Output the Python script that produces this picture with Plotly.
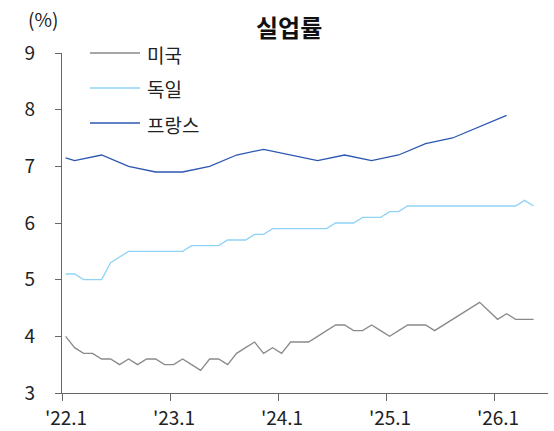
import plotly.graph_objects as go

# Monthly index: 0 = 2022-01 ... 52 = 2026-05
months = list(range(53))

us = [4.0, 3.8, 3.7, 3.7, 3.6, 3.6, 3.5, 3.6, 3.5, 3.6, 3.6, 3.5,
      3.5, 3.6, 3.5, 3.4, 3.6, 3.6, 3.5, 3.7, 3.8, 3.9, 3.7, 3.8,
      3.7, 3.9, 3.9, 3.9, 4.0, 4.1, 4.2, 4.2, 4.1, 4.1, 4.2, 4.1,
      4.0, 4.1, 4.2, 4.2, 4.2, 4.1, 4.2, 4.3, 4.4, None, 4.6, 4.45,
      4.3, 4.4, 4.3, 4.3, 4.3]

germany = [5.1, 5.1, 5.0, 5.0, 5.0, 5.3, 5.4, 5.5, 5.5, 5.5, 5.5, 5.5,
           5.5, 5.5, 5.6, 5.6, 5.6, 5.6, 5.7, 5.7, 5.7, 5.8, 5.8, 5.9,
           5.9, 5.9, 5.9, 5.9, 5.9, 5.9, 6.0, 6.0, 6.0, 6.1, 6.1, 6.1,
           6.2, 6.2, 6.3, 6.3, 6.3, 6.3, 6.3, 6.3, 6.3, 6.3, 6.3, 6.3,
           6.3, 6.3, 6.3, 6.4, 6.3]

france = [7.15, 7.1, None, None, 7.2, None, None, 7.0, None, None, 6.9, None,
          None, 6.9, None, None, 7.0, None, None, 7.2, None, None, 7.3, None,
          None, 7.2, None, None, 7.1, None, None, 7.2, None, None, 7.1, None,
          None, 7.2, None, None, 7.4, None, None, 7.5, None, None, 7.7, None,
          None, 7.9, None, None, None]

series_names = ["미국", "독일", "프랑스"]
series_colors = ["#8a8a8a", "#8fd3f7", "#2c57b0"]

tick_vals = [-0.4, 11.6, 23.6, 35.6, 47.6]
tick_text = ["'22.1", "'23.1", "'24.1", "'25.1", "'26.1"]
y_ticks = [3, 4, 5, 6, 7, 8, 9]

FONT = "Noto Sans CJK KR"
PL, PR, PT, PB = 62, 6, 53, 38
W, H = 554, 431
PW, PH = W - PL - PR, H - PT - PB


def px(xp):
    return (xp - PL) / PW


def py(yp):
    return (H - PB - yp) / PH


fig = go.Figure()
for name, vals, col in zip(series_names, [us, germany, france], series_colors):
    fig.add_trace(go.Scatter(x=months, y=vals, mode="lines", name=name,
                             line=dict(color=col, width=1.3),
                             connectgaps=True, showlegend=False))

# Manual legend (long line samples as in the reference)
legend_rows = [53, 88, 123]
shapes = []
annotations = []
for name, col, yr in zip(series_names, series_colors, legend_rows):
    shapes.append(dict(type="line", xref="paper", yref="paper",
                       x0=px(90), x1=px(140), y0=py(yr), y1=py(yr),
                       line=dict(color=col, width=1.3)))
    annotations.append(dict(text=name, xref="paper", yref="paper",
                            x=px(145), y=py(yr + 1), xanchor="left",
                            yanchor="middle", showarrow=False,
                            font=dict(size=19, family=FONT, color="#222222")))

annotations += [
    dict(text="<b>실업률</b>", xref="paper", yref="paper",
         x=px(289), y=py(26),
         xanchor="center", yanchor="middle", showarrow=False,
         font=dict(size=24, family=FONT, color="#111111")),
    dict(text="(%)", xref="paper", yref="paper",
         x=px(43), y=py(19),
         xanchor="center", yanchor="middle", showarrow=False,
         font=dict(size=19, family=FONT, color="#222222")),
]

fig.update_layout(
    width=W, height=H,
    margin=dict(l=PL, r=PR, t=PT, b=PB, autoexpand=False),
    paper_bgcolor="white", plot_bgcolor="white",
    font=dict(family=FONT, size=19, color="#222222"),
    showlegend=False,
    xaxis=dict(range=[-0.4, 53.6], tickvals=tick_vals, ticktext=tick_text,
               showgrid=False, zeroline=False, showline=True, automargin=False,
               linecolor="#666666", linewidth=1.2,
               ticks="outside", ticklen=7, tickcolor="#666666",
               ticklabelshift=4, ticklabelstandoff=1,
               tickfont=dict(size=19, family=FONT, color="#222222")),
    yaxis=dict(range=[3, 9], tickvals=y_ticks,
               showgrid=False, zeroline=False, showline=True, automargin=False,
               linecolor="#666666", linewidth=1.2,
               ticks="outside", ticklen=6, tickcolor="#666666",
               ticklabelstandoff=16,
               tickfont=dict(size=19, family=FONT, color="#222222")),
    shapes=shapes,
    annotations=annotations,
)

fig.write_html(
    "out.html",
    config={"displayModeBar": False},
    post_script="document.body.style.margin='0';document.body.style.padding='0';",
)
